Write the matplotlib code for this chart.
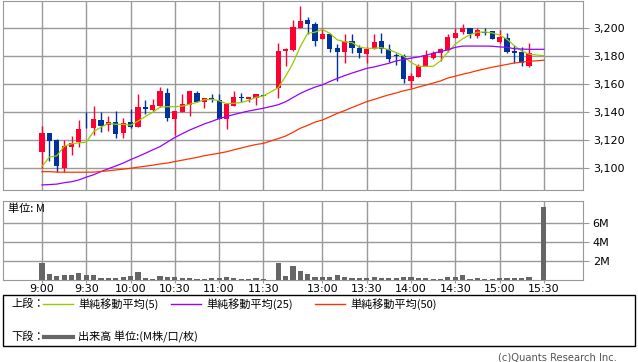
import numpy as np
import pandas as pd
import matplotlib
matplotlib.use('Agg')
import matplotlib.pyplot as plt
from matplotlib.patches import Rectangle
from matplotlib.lines import Line2D

plt.rcParams['font.family'] = ['DejaVu Sans', 'Noto Sans CJK JP']

# 5分足 (9:00-11:30, 12:30-15:20, 15:30)
times = (list(pd.date_range('09:00', '11:30', freq='5min').strftime('%H:%M'))
         + list(pd.date_range('12:30', '15:20', freq='5min').strftime('%H:%M'))
         + ['15:30'])

opens = [3111.6, 3125.2, 3120.0, 3100.3, 3115.2, 3118.8, 3129.5, 3128.8, 3134.3, 3130.7,
         3133.0, 3125.2, 3133.0, 3129.5, 3143.3, 3141.4, 3144.3, 3153.6, 3135.2, 3140.0,
         3144.8, 3153.6, 3147.4, 3150.0, 3148.6, 3135.2, 3144.3, 3150.5, 3149.3, 3150.0,
         3151.8,
         3157.4, 3183.3, 3184.3, 3199.8, 3205.7, 3203.0, 3192.1, 3195.7, 3185.5, 3182.6,
         3190.7, 3186.0, 3181.7, 3185.0, 3190.7, 3185.0, 3180.3, 3180.0, 3162.4, 3165.2,
         3173.0, 3178.8, 3182.0, 3184.3, 3193.0, 3197.4, 3199.8, 3194.5, 3197.2, 3197.9,
         3190.2, 3192.6, 3183.6, 3183.0, 3173.0,
         3182.3]
highs = [3130.0, 3125.2, 3121.0, 3120.0, 3123.0, 3134.3, 3140.0, 3144.0, 3140.0, 3137.0,
         3140.7, 3136.0, 3142.0, 3153.0, 3148.6, 3149.0, 3157.6, 3157.4, 3141.0, 3153.0,
         3155.0, 3155.2, 3150.0, 3152.6, 3152.6, 3145.7, 3155.0, 3153.3, 3150.8, 3153.0,
         3151.8,
         3189.0, 3186.0, 3205.7, 3216.0, 3208.0, 3204.0, 3199.8, 3196.7, 3188.5, 3196.0,
         3196.0, 3188.0, 3186.7, 3195.5, 3196.7, 3188.3, 3182.4, 3181.5, 3167.6, 3174.0,
         3184.0, 3183.6, 3185.5, 3195.5, 3199.8, 3203.0, 3200.0, 3199.8, 3199.8, 3198.0,
         3198.6, 3196.2, 3188.0, 3186.7, 3189.0,
         3182.3]
lows = [3100.0, 3105.2, 3097.5, 3097.0, 3109.3, 3115.2, 3128.5, 3123.6, 3125.5, 3126.7,
        3121.7, 3121.7, 3128.8, 3129.0, 3138.3, 3141.0, 3143.6, 3133.8, 3123.6, 3140.0,
        3137.0, 3147.4, 3143.0, 3147.4, 3135.0, 3127.6, 3144.0, 3147.4, 3147.4, 3145.0,
        3151.6,
        3150.2, 3173.0, 3183.8, 3199.8, 3195.5, 3187.4, 3192.0, 3183.0, 3162.0, 3175.0,
        3182.0, 3178.3, 3174.8, 3185.0, 3182.0, 3175.5, 3173.3, 3160.5, 3157.0, 3165.0,
        3173.0, 3177.6, 3176.6, 3182.6, 3193.0, 3195.5, 3193.0, 3193.0, 3195.0, 3192.4,
        3189.5, 3182.0, 3175.0, 3173.0, 3172.4,
        3182.1]
closes = [3125.2, 3119.5, 3101.7, 3115.7, 3118.0, 3128.0, 3129.0, 3135.0, 3130.0, 3133.0,
          3124.5, 3132.0, 3129.5, 3143.6, 3142.5, 3145.0, 3155.2, 3135.5, 3140.7, 3145.7,
          3155.0, 3147.4, 3150.0, 3148.6, 3135.2, 3145.7, 3150.7, 3150.0, 3150.5, 3153.0,
          3151.6,
          3183.8, 3185.0, 3201.0, 3205.2, 3202.9, 3191.0, 3195.7, 3185.2, 3183.0, 3191.0,
          3185.5, 3182.4, 3185.2, 3190.0, 3184.8, 3177.6, 3180.0, 3163.3, 3165.7, 3173.0,
          3180.7, 3182.0, 3185.0, 3193.8, 3196.7, 3199.8, 3195.5, 3198.6, 3196.3, 3192.4,
          3193.8, 3183.0, 3182.4, 3174.8, 3182.4,
          3182.1]

ma5 = [3101.2, 3107.8, 3108.7, 3115.5, 3117.3, 3118.0, 3118.5, 3126.0, 3129.2, 3131.9,
       3131.2, 3131.2, 3130.6, 3133.5, 3136.8, 3139.8, 3143.5, 3143.8, 3143.8, 3144.2,
       3145.5, 3146.9, 3148.8, 3149.0, 3148.0, 3146.0, 3146.2, 3146.8, 3148.3, 3150.5,
       3151.4,
       3157.3, 3165.5, 3174.8, 3186.7, 3196.2, 3197.0, 3199.0, 3196.2, 3191.6, 3190.2,
       3189.6, 3186.4, 3185.5, 3185.5, 3186.0, 3184.5, 3182.5, 3180.0, 3175.4, 3172.6,
       3172.6, 3172.6, 3176.5, 3183.0, 3188.5, 3192.3, 3195.3, 3197.0, 3197.2, 3196.5,
       3195.0, 3192.0, 3187.3, 3183.6, 3181.3,
       3180.2]
ma25 = [3087.9, 3088.2, 3088.5, 3089.5, 3090.2, 3091.5, 3093.5, 3095.2, 3097.5, 3099.5,
        3101.5, 3103.5, 3106.0, 3108.2, 3110.5, 3113.0, 3115.3, 3118.6, 3121.8, 3124.5,
        3127.1, 3129.3, 3131.5, 3133.3, 3135.3, 3136.8, 3138.2, 3139.5, 3140.7, 3141.7,
        3142.7,
        3145.2, 3147.3, 3150.3, 3153.3, 3155.7, 3157.8, 3159.4, 3161.8, 3164.0, 3166.0,
        3167.8, 3169.5, 3171.2, 3172.2, 3173.5, 3174.8, 3176.5, 3177.5, 3178.5, 3179.3,
        3180.5, 3182.0, 3183.2, 3184.4, 3186.2, 3187.1, 3187.1, 3187.1, 3187.1, 3187.0,
        3186.5, 3186.2, 3185.2, 3185.0, 3184.8,
        3184.8]
ma50 = [3097.4, 3097.4, 3097.1, 3097.0, 3097.0, 3097.0, 3097.0, 3097.1, 3097.5, 3098.0,
        3098.6, 3099.2, 3099.8, 3100.6, 3101.3, 3102.0, 3102.9, 3103.6, 3104.6, 3105.6,
        3106.6, 3107.6, 3108.8, 3109.7, 3110.6, 3111.6, 3113.0, 3114.3, 3115.6, 3116.8,
        3117.6,
        3121.0, 3122.8, 3125.5, 3128.4, 3130.5, 3132.8, 3134.3, 3136.6, 3139.0, 3141.0,
        3143.2, 3145.3, 3147.4, 3149.0, 3150.7, 3152.3, 3153.6, 3155.2, 3156.3, 3157.8,
        3159.2, 3160.7, 3162.2, 3164.3, 3165.6, 3167.0, 3168.2, 3169.6, 3170.8, 3172.0,
        3173.0, 3174.0, 3175.0, 3175.6, 3176.2,
        3177.0]

# 出来高 (M)
volume = [1.79, 0.63, 0.46, 0.53, 0.53, 0.74, 0.53, 0.53, 0.25, 0.25,
          0.25, 0.35, 0.46, 0.84, 0.21, 0.14, 0.42, 0.32, 0.32, 0.21,
          0.21, 0.14, 0.14, 0.21, 0.21, 0.32, 0.21, 0.14, 0.14, 0.21,
          0.08,
          1.79, 0.46, 1.47, 0.95, 0.63, 0.32, 0.32, 0.32, 0.53, 0.32,
          0.21, 0.21, 0.21, 0.32, 0.21, 0.21, 0.21, 0.32, 0.32, 0.21,
          0.21, 0.14, 0.14, 0.32, 0.32, 0.53, 0.14, 0.21, 0.14, 0.14,
          0.21, 0.21, 0.21, 0.21, 0.32,
          7.65]

tick_times = ['9:00', '9:30', '10:00', '10:30', '11:00', '11:30',
              '13:00', '13:30', '14:00', '14:30', '15:00', '15:30']
price_ticks = [3100, 3120, 3140, 3160, 3180, 3200]
vol_ticks = [2, 4, 6]


def to_slot(t):
    h, m = map(int, t.split(':'))
    n = (h * 60 + m - 540) // 5
    return n - 10 if h * 60 + m >= 750 else n


x = np.array([to_slot(t) for t in times])
o, h, l, c = map(np.array, (opens, highs, lows, closes))

W, H = 638, 362
fig = plt.figure(figsize=(W / 100, H / 100), dpi=100)


def fx(px):
    return px / W


def fy(py):
    return 1 - py / H


grid_c = '#999999'
up_c, dn_c = '#ff0033', '#003399'
xlim = ((3 - 42) / 7.38, (583 - 42) / 7.38)

ax = fig.add_axes([fx(3), fy(190), fx(583) - fx(3), fy(1) - fy(190)])
axv = fig.add_axes([fx(3), fy(280), fx(583) - fx(3), fy(201) - fy(280)])

# ローソク足
colors = np.where(c > o, up_c, dn_c)
ax.vlines(x, l, h, colors=colors, linewidth=1, zorder=3)
body_h = np.maximum(np.abs(c - o), 0.4)
ax.bar(x, body_h, bottom=np.minimum(o, c), width=0.7, color=colors,
       linewidth=0, zorder=4)

ax.plot(x, ma5, color='#99cc00', lw=0.9, zorder=5)
ax.plot(x, ma25, color='#9900ff', lw=0.9, zorder=5)
ax.plot(x, ma50, color='#ff3300', lw=0.9, zorder=5)

tick_pos = [to_slot(t) for t in tick_times]
for a in (ax, axv):
    a.set_xlim(*xlim)
    a.set_xticks(tick_pos)
    a.grid(True, color=grid_c, lw=1)
    a.set_axisbelow(True)
    for s in a.spines.values():
        s.set_color(grid_c)
    a.yaxis.tick_right()
    a.tick_params(axis='y', colors=grid_c, length=4, pad=3, labelcolor='black', labelsize=8)
    a.tick_params(axis='x', colors=grid_c, length=2, pad=1, labelcolor='black', labelsize=8)

ax.set_ylim(3084.3, 3219.3)
ax.set_yticks(price_ticks)
ax.set_yticklabels([f'{v:,}' for v in price_ticks])
ax.tick_params(axis='x', labelbottom=False, length=0)

axv.bar(x, volume, width=0.7, color='#666666', linewidth=0, zorder=3)
axv.set_ylim(0, 8.3)
axv.set_yticks(vol_ticks)
axv.set_yticklabels([f'{v}M' for v in vol_ticks])
axv.set_xticklabels(tick_times)

jp = ['Noto Sans CJK JP', 'DejaVu Sans']
fig.text(fx(8), fy(209), '単位: M', fontsize=8, va='center', ha='left', family=jp)

# 凡例
fig.patches.append(Rectangle((fx(3), fy(346)), fx(635) - fx(3), fy(295) - fy(346),
                             transform=fig.transFigure, fill=False,
                             edgecolor='black', lw=1))
row1, row2 = 304, 337
fig.text(fx(11), fy(row1), '上段：', fontsize=8, va='center', family=jp)
items = [(43, '#99cc00', '単純移動平均(5)'), (171, '#9900ff', '単純移動平均(25)'),
         (315, '#ff3300', '単純移動平均(50)')]
for x0, col, lab in items:
    fig.lines.append(Line2D([fx(x0), fx(x0 + 30)], [fy(row1), fy(row1)],
                            transform=fig.transFigure, color=col, lw=1))
    fig.text(fx(x0 + 35), fy(row1), lab, fontsize=8, va='center', family=jp)
fig.text(fx(11), fy(row2), '下段：', fontsize=8, va='center', family=jp)
fig.lines.append(Line2D([fx(44), fx(73)], [fy(row2), fy(row2)],
                        transform=fig.transFigure, color='#666666', lw=3))
fig.text(fx(78), fy(row2), '出来高 単位:(M株/口/枚)', fontsize=8, va='center', family=jp)

fig.text(fx(617), fy(357), '(c)Quants Research Inc.', fontsize=7.2, color='#555555',
         ha='right', va='center')

fig.savefig('out.png', dpi=100)
